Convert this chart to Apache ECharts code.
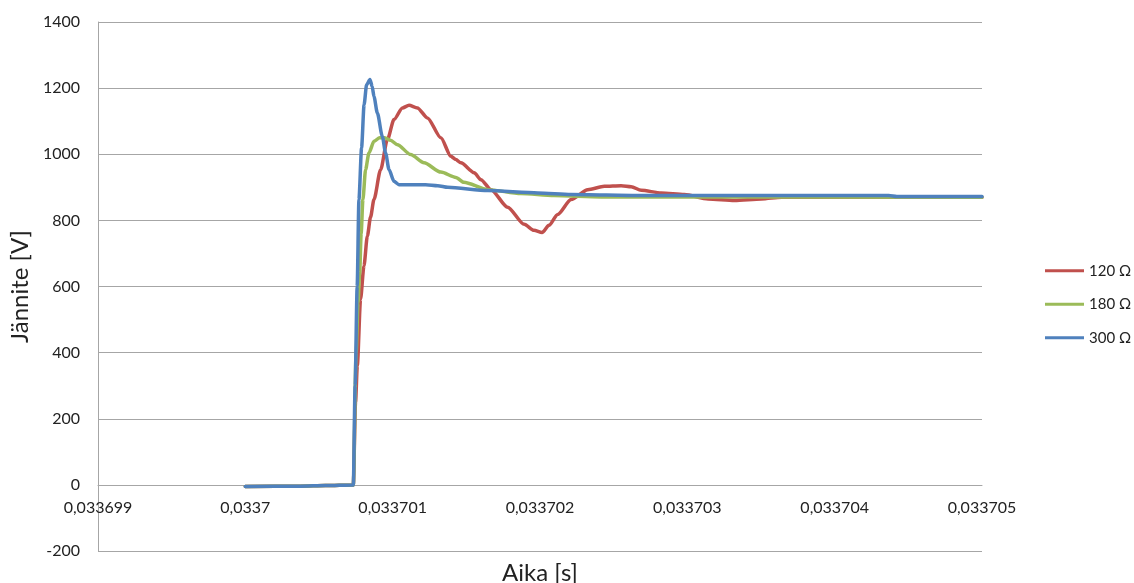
<!DOCTYPE html>
<html>
<head>
<meta charset="utf-8">
<script src="https://cdn.jsdelivr.net/npm/echarts@6/dist/echarts.min.js"></script>
<style>
html,body{margin:0;padding:0;background:#fff;}
#chart{width:1134px;height:583px;}
</style>
</head>
<body>
<div id="chart"></div>
<script>
// time axis in microseconds (value 33700.5 = 0,0337005 s)
const tickLabels = ["0,033699","0,0337","0,033701","0,033702","0,033703","0,033704","0,033705"];
const seriesNames = ["120 \u03A9","180 \u03A9","300 \u03A9"];

const t120 = [33700.000,33700.374,33700.544,33700.733,33700.748,33700.760,33700.782,33700.805,33700.828,33700.850,33700.873,33700.918,33700.964,33701.009,33701.066,33701.111,33701.168,33701.236,33701.327,33701.395,33701.429,33701.463,33701.553,33701.599,33701.667,33701.780,33701.893,33701.959,33702.014,33702.061,33702.120,33702.211,33702.324,33702.437,33702.551,33702.619,33702.687,33702.823,33702.980,33703.141,33703.320,33703.503,33703.640,33705.000];
const v120 = [-5,-4,-2,0,250,360,561,662,752,810,863,953,1044,1105,1140,1148,1140,1110,1050,994,984,974,944,923,893,840,788,770,763,785,818,863,893,903,905,902,891,883,878,865,860,865,870,870];

const t180 = [33700.000,33700.374,33700.544,33700.733,33700.752,33700.765,33700.776,33700.786,33700.798,33700.816,33700.839,33700.873,33700.912,33700.946,33700.986,33701.032,33701.122,33701.213,33701.327,33701.429,33701.483,33701.646,33701.871,33702.095,33702.415,33705.000];
const v180 = [-5,-4,-2,0,400,550,640,760,863,953,1004,1039,1050,1050,1042,1029,999,974,946,930,915,893,881,875,871,870];

const t300 = [33700.000,33700.374,33700.544,33700.733,33700.745,33700.759,33700.771,33700.789,33700.806,33700.823,33700.846,33700.861,33700.873,33700.896,33700.930,33700.952,33700.975,33701.009,33701.043,33701.100,33701.224,33701.306,33701.374,33701.646,33701.986,33702.211,33702.687,33704.367,33704.422,33705.000];
const v300 = [-5,-4,-2,0,300,600,863,1020,1150,1210,1226,1205,1175,1125,1054,1004,954,918,908,908,908,905,900,890,883,878,875,875,872,872];

const colors = ["#C0504D","#9BBB59","#4F81BD"];
const font = "Lato, 'Open Sans', sans-serif";

function pairs(t, v){ return t.map((x,i)=>[x, v[i]]); }

const chart = echarts.init(document.getElementById('chart'), null, {renderer:'canvas'});
const dataSets = [pairs(t120,v120), pairs(t180,v180), pairs(t300,v300)];

const Y_MIN = -200, Y_MAX = 1400, GRID_TOP = 22, GRID_BOTTOM = 32;
const plotH = 583 - GRID_TOP - GRID_BOTTOM;
const zeroOffset = -(0 - Y_MIN) / (Y_MAX - Y_MIN) * plotH;

chart.setOption({
  animation:false,
  backgroundColor:'#fff',
  grid:{left:98, right:152, top:GRID_TOP, bottom:GRID_BOTTOM, containLabel:false, outerBoundsMode:'none'},
  xAxis:{
    type:'value', min:33699, max:33705, interval:1,
    offset: zeroOffset,
    name:'Aika [s]', nameLocation:'middle', nameGap:76,
    nameTextStyle:{fontFamily:font, fontSize:24, color:'#222'},
    axisLine:{show:true, onZero:false, lineStyle:{color:'#a6a6a6', width:1}},
    axisTick:{show:false},
    splitLine:{show:false},
    axisLabel:{show:true, showMinLabel:true, showMaxLabel:true, margin:15,
      fontFamily:font, fontSize:16, color:'#222',
      formatter:function(v){ return tickLabels[Math.round(v-33699)]; }}
  },
  yAxis:{
    type:'value', min:Y_MIN, max:Y_MAX, interval:200,
    name:'J\u00e4nnite [V]', nameLocation:'middle', nameGap:64, nameRotate:90,
    nameTextStyle:{fontFamily:font, fontSize:24, color:'#222'},
    axisLine:{show:true, lineStyle:{color:'#a6a6a6', width:1}},
    axisTick:{show:false},
    splitLine:{show:true, lineStyle:{color:'#a6a6a6', width:1}},
    axisLabel:{margin:18, fontFamily:font, fontSize:16, color:'#222',
      formatter:function(v){ return String(v); }}
  },
  legend:{
    orient:'vertical', left:1045, top:254, padding:0,
    itemWidth:39, itemHeight:3, itemGap:0, icon:'rect',
    textStyle:{fontFamily:font, fontSize:15, color:'#222', lineHeight:33.5},
    data:seriesNames
  },
  series: seriesNames.map((n,i)=>({
    name:n, type:'line', data:dataSets[i], showSymbol:false, symbol:'none',
    smooth:0.25, smoothMonotone:'x',
    lineStyle:{color:colors[i], width:3.5, cap:'round', join:'round'}, itemStyle:{color:colors[i]},
    z:2+i
  }))
});
</script>
</body>
</html>
